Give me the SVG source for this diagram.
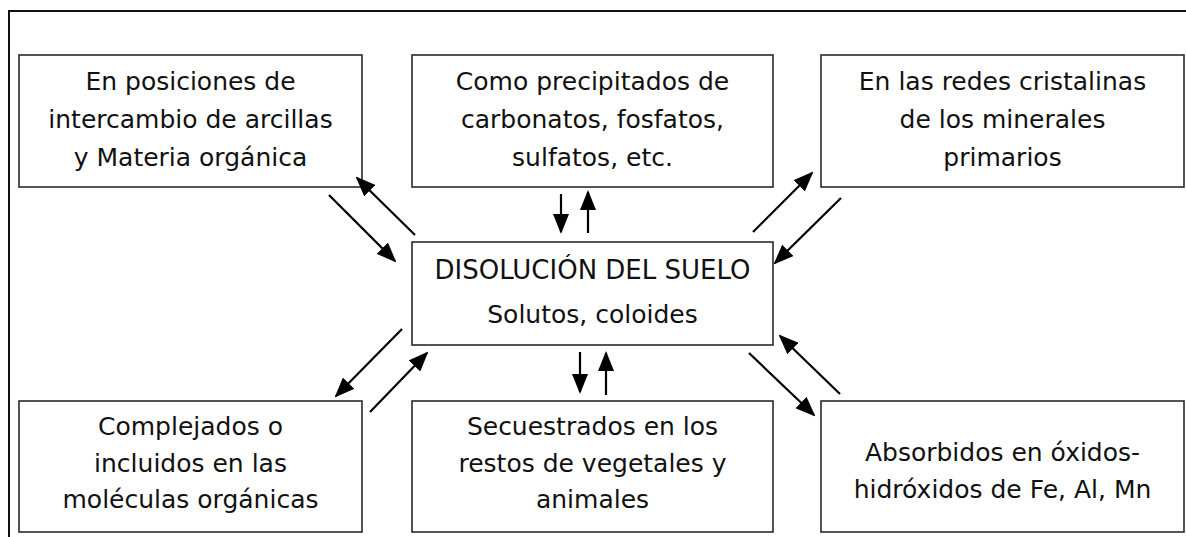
<svg xmlns="http://www.w3.org/2000/svg" width="1186" height="537" viewBox="0 0 1186 537">
<style>
.box{fill:#fff;stroke:#2a2a2a;stroke-width:1.6}
.t{font-family:"DejaVu Sans","Verdana",sans-serif;font-size:25px;fill:#111;text-anchor:middle}
.big{font-size:26px}
.c{stroke:#000;stroke-width:2.2;fill:none;marker-end:url(#ah)}
</style>
<defs>
<marker id="ah" markerUnits="userSpaceOnUse" markerWidth="20" markerHeight="16" viewBox="0 0 20 16" refX="18" refY="8" orient="auto">
<path d="M0,0 L20,8 L0,16 z" fill="#000"/>
</marker>
</defs>
<rect x="0" y="0" width="1186" height="537" fill="#fff"/>
<rect id="frame" x="9" y="11" width="1300" height="700" fill="none" stroke="#111" stroke-width="2"/>

<g id="n1"><rect class="box" x="19" y="55" width="343" height="132"/>
<text class="t" x="190.5" y="90">En posiciones de</text>
<text class="t" x="190.5" y="128">intercambio de arcillas</text>
<text class="t" x="190.5" y="166">y Materia orgánica</text></g>

<g id="n2"><rect class="box" x="412" y="55" width="361" height="132"/>
<text class="t" x="592.5" y="90">Como precipitados de</text>
<text class="t" x="592.5" y="128">carbonatos, fosfatos,</text>
<text class="t" x="592.5" y="166">sulfatos, etc.</text></g>

<g id="n3"><rect class="box" x="821" y="55" width="363" height="132"/>
<text class="t" x="1002.5" y="90">En las redes cristalinas</text>
<text class="t" x="1002.5" y="128">de los minerales</text>
<text class="t" x="1002.5" y="166">primarios</text></g>

<g id="center"><rect class="box" x="412" y="242" width="361" height="103"/>
<text class="t big" x="592.5" y="279">DISOLUCIÓN DEL SUELO</text>
<text class="t" x="592.5" y="323">Solutos, coloides</text></g>

<g id="n4"><rect class="box" x="19" y="401" width="343" height="131"/>
<text class="t" x="190.5" y="435">Complejados o</text>
<text class="t" x="190.5" y="472">incluidos en las</text>
<text class="t" x="190.5" y="508">moléculas orgánicas</text></g>

<g id="n5"><rect class="box" x="412" y="401" width="361" height="131"/>
<text class="t" x="592.5" y="435">Secuestrados en los</text>
<text class="t" x="592.5" y="472">restos de vegetales y</text>
<text class="t" x="592.5" y="508">animales</text></g>

<g id="n6"><rect class="box" x="821" y="401" width="363" height="131"/>
<text class="t" x="1002.5" y="461">Absorbidos en óxidos-</text>
<text class="t" x="1002.5" y="498">hidróxidos de Fe, Al, Mn</text></g>

<g id="connectors">
<line class="c" x1="329" y1="195" x2="395" y2="261"/>
<line class="c" x1="415" y1="235" x2="357" y2="178"/>
<line class="c" x1="561" y1="194" x2="561" y2="232"/>
<line class="c" x1="588" y1="233" x2="588" y2="192"/>
<line class="c" x1="753" y1="232" x2="812" y2="173"/>
<line class="c" x1="841" y1="198" x2="775" y2="263"/>
<line class="c" x1="402" y1="329" x2="336" y2="396"/>
<line class="c" x1="370" y1="412" x2="427" y2="353"/>
<line class="c" x1="580" y1="352" x2="580" y2="392"/>
<line class="c" x1="606" y1="395" x2="606" y2="353"/>
<line class="c" x1="749" y1="353" x2="814" y2="415"/>
<line class="c" x1="840" y1="394" x2="780" y2="336"/>
</g>
</svg>
